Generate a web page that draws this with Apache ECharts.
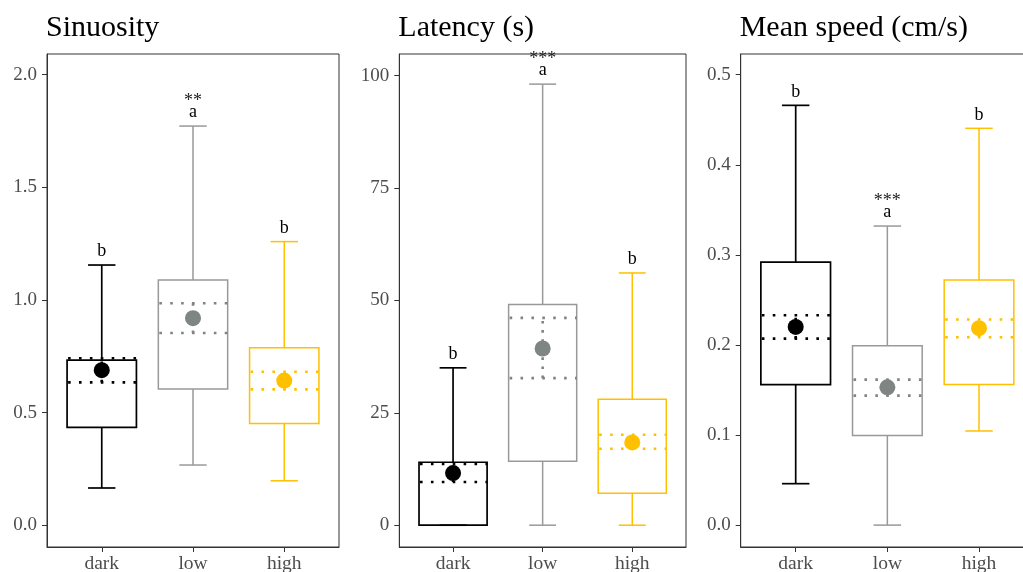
<!DOCTYPE html>
<html><head><meta charset="utf-8">
<script src="https://cdn.jsdelivr.net/npm/echarts@6/dist/echarts.min.js"></script>
<style>html,body{margin:0;padding:0;background:#fff}#c{width:1023px;height:572px}</style>
</head><body><div id="c"></div>
<script>
const categories = ['dark', 'low', 'high'];
const groupColors = ['#000000', '#999999', '#FFC000'];
const meanColors = ['#000000', '#7f8582', '#FFC000'];

// Sinuosity
const sinWhiskerLow = [0.165, 0.267, 0.197];
const sinQ1 = [0.434, 0.605, 0.451];
const sinQ3 = [0.733, 1.089, 0.788];
const sinWhiskerHigh = [1.155, 1.772, 1.259];
const sinMean = [0.688, 0.919, 0.642];
const sinCiLow = [0.634, 0.853, 0.603];
const sinCiHigh = [0.741, 0.985, 0.681];
const sinLetters = ['b', 'a', 'b'];
const sinStars = ['', '**', ''];
const sinTicks = [0, 0.5, 1.0, 1.5, 2.0];

// Latency (s)
const latWhiskerLow = [0, 0, 0];
const latQ1 = [0, 14.2, 7.1];
const latQ3 = [14.0, 49.1, 28.0];
const latWhiskerHigh = [35.0, 98.1, 56.1];
const latMean = [11.6, 39.3, 18.4];
const latCiLow = [9.6, 32.7, 17.0];
const latCiHigh = [13.6, 46.1, 20.1];
const latLetters = ['b', 'a', 'b'];
const latStars = ['', '***', ''];
const latTicks = [0, 25, 50, 75, 100];

// Mean speed (cm/s)
const spdWhiskerLow = [0.046, 0.0, 0.1045];
const spdQ1 = [0.156, 0.0996, 0.156];
const spdQ3 = [0.292, 0.199, 0.272];
const spdWhiskerHigh = [0.466, 0.332, 0.4405];
const spdMean = [0.220, 0.153, 0.2186];
const spdCiLow = [0.207, 0.1437, 0.2085];
const spdCiHigh = [0.233, 0.1615, 0.2283];
const spdLetters = ['b', 'a', 'b'];
const spdStars = ['', '***', ''];
const spdTicks = [0, 0.1, 0.2, 0.3, 0.4, 0.5];

const FONT = 'Liberation Serif';

const panels = [
  {title: 'Sinuosity', wl: sinWhiskerLow, q1: sinQ1, q3: sinQ3, wh: sinWhiskerHigh, mean: sinMean, cl: sinCiLow, ch: sinCiHigh, letters: sinLetters, stars: sinStars, ticks: sinTicks, digits: 1, min: -0.097, max: 2.092, left: 47, right: 684},
  {title: 'Latency (s)', wl: latWhiskerLow, q1: latQ1, q3: latQ3, wh: latWhiskerHigh, mean: latMean, cl: latCiLow, ch: latCiHigh, letters: latLetters, stars: latStars, ticks: latTicks, digits: 0, min: -4.85, max: 104.8, left: 399.3, right: 337},
  {title: 'Mean speed (cm/s)', wl: spdWhiskerLow, q1: spdQ1, q3: spdQ3, wh: spdWhiskerHigh, mean: spdMean, cl: spdCiLow, ch: spdCiHigh, letters: spdLetters, stars: spdStars, ticks: spdTicks, digits: 1, min: -0.0243, max: 0.523, left: 740.7, right: -11}
];

const GRID_TOP = 54, GRID_H = 493;

function makeRender(p) {
  return function (params, api) {
    const i = params.dataIndex;
    const x = api.value(0);
    const wl = api.value(1), q1 = api.value(2), q3 = api.value(3), wh = api.value(4);
    const cl = api.value(5), m = api.value(6), ch = api.value(7);
    const cx = api.coord([x, 0])[0];
    const Y = v => api.coord([x, v])[1];
    const bw = api.size([0.76, 0])[0];
    const cw = api.size([0.30, 0])[0];
    const col = groupColors[i];
    const mc = meanColors[i];
    const lw = i === 0 ? 1.7 : 1.5;
    const line = (x1, y1, x2, y2, style) => ({type: 'line', shape: {x1, y1, x2, y2}, style: Object.assign({stroke: col, lineWidth: lw}, style || {})});
    const dot = {stroke: mc, lineWidth: 2.6, lineDash: [2.6, 8.3], lineCap: 'butt'};
    const children = [
      line(cx, Y(q1), cx, Y(wl)),
      line(cx, Y(q3), cx, Y(wh)),
      line(cx - cw / 2, Y(wl), cx + cw / 2, Y(wl)),
      line(cx - cw / 2, Y(wh), cx + cw / 2, Y(wh)),
      {type: 'rect', shape: {x: cx - bw / 2, y: Y(q3), width: bw, height: Y(q1) - Y(q3)}, style: {fill: 'none', stroke: col, lineWidth: lw}},
      line(cx - bw / 2 + 1, Y(cl), cx + bw / 2, Y(cl), dot),
      line(cx - bw / 2 + 1, Y(ch), cx + bw / 2, Y(ch), dot),
      line(cx, Y(cl), cx, Y(ch), Object.assign({}, dot, {lineDash: [2.6, 6.5]})),
      {type: 'circle', shape: {cx: cx, cy: Y(m), r: 8}, style: {fill: mc, stroke: null}},
      {type: 'text', style: {text: p.letters[i], x: cx, y: Y(wh) - 4.5, align: 'center', verticalAlign: 'bottom', fontSize: 18, fontFamily: FONT, fill: '#000'}}
    ];
    if (p.stars[i]) {
      children.push({type: 'text', style: {text: p.stars[i], x: cx, y: Y(wh) - 16, align: 'center', verticalAlign: 'bottom', fontSize: 18, fontFamily: FONT, fill: '#222'}});
    }
    return {type: 'group', children};
  };
}

const option = {
  animation: false,
  backgroundColor: '#fff',
  title: panels.map(p => ({text: p.title, left: p.left - 1, top: 13, padding: 0, textStyle: {fontFamily: FONT, fontSize: 30, fontWeight: 'normal', color: '#000'}})),
  grid: panels.map(p => ({left: p.left, top: GRID_TOP, right: p.right, height: GRID_H, show: true, borderColor: '#333', borderWidth: 1, backgroundColor: 'transparent', outerBoundsMode: 'none', containLabel: false})),
  xAxis: panels.map((p, k) => ({
    type: 'value', gridIndex: k, min: 0.4, max: 3.6,
    splitLine: {show: false},
    axisLine: {show: true, onZero: false, lineStyle: {color: '#333', width: 1}},
    axisTick: {show: true, length: 5, lineStyle: {color: '#333'}, customValues: [1, 2, 3]},
    axisLabel: {customValues: [1, 2, 3], formatter: v => categories[Math.round(v) - 1], fontFamily: FONT, fontSize: 19.5, color: '#4d4d4d', margin: 7}
  })),
  yAxis: panels.map((p, k) => ({
    type: 'value', gridIndex: k, min: p.min, max: p.max,
    splitLine: {show: false},
    axisLine: {show: true, onZero: false, lineStyle: {color: '#333', width: 1}},
    axisTick: {show: true, length: 5, lineStyle: {color: '#333'}, customValues: p.ticks},
    axisLabel: {customValues: p.ticks, formatter: v => v.toFixed(p.digits), fontFamily: FONT, fontSize: 19, color: '#4d4d4d', margin: 10}
  })),
  series: panels.map((p, k) => ({
    type: 'custom', xAxisIndex: k, yAxisIndex: k,
    renderItem: makeRender(p),
    data: categories.map((c, i) => [i + 1, p.wl[i], p.q1[i], p.q3[i], p.wh[i], p.cl[i], p.mean[i], p.ch[i]]),
    clip: false
  }))
};

const chart = echarts.init(document.getElementById('c'), null, {renderer: 'canvas'});
chart.setOption(option);
</script></body></html>
